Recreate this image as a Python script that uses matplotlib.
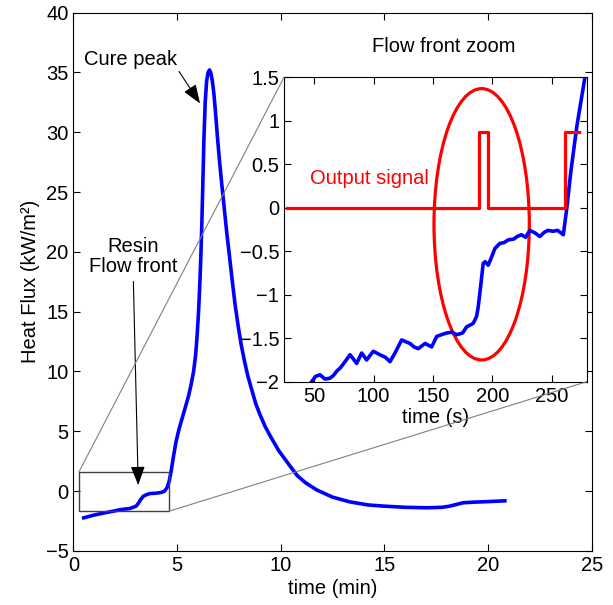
import numpy as np
import matplotlib
matplotlib.use("Agg")
import matplotlib.pyplot as plt
from matplotlib.patches import Rectangle, Ellipse, ConnectionPatch

plt.rcParams['font.family'] = ['Liberation Sans', 'DejaVu Sans']
plt.rcParams['font.size'] = 14.5

# main curve: heat flux vs time (min)
t_min = [0.5, 1.0, 1.5, 2.0, 2.25, 2.73, 3.03, 3.13, 3.25, 3.38, 3.55, 3.7, 4.0, 4.26, 4.4, 4.52,
         4.62, 4.72, 4.83, 4.95, 5.1, 5.25, 5.4, 5.55, 5.68, 5.8, 5.9, 5.97, 6.04, 6.1, 6.15,
         6.2, 6.25, 6.3, 6.36, 6.43, 6.5, 6.57,
         6.64, 6.71, 6.78, 6.86, 6.95, 7.05, 7.15, 7.27, 7.4, 7.52, 7.65, 7.8, 7.95, 8.1, 8.25,
         8.42, 8.6, 8.8, 9.0, 9.25, 9.5, 9.9, 10.45,
         10.8, 11.2, 11.74, 12.5, 13.34, 14.2, 14.95, 16.0, 17.04, 17.8, 18.16, 18.5, 18.8,
         19.3, 19.77, 20.3, 20.81]
flux = [-2.23, -2.0, -1.82, -1.65, -1.55, -1.45, -1.25, -1.03, -0.7, -0.42, -0.28, -0.2, -0.17,
        -0.1, 0.0, 0.3, 0.8, 1.7, 2.9, 4.1, 5.2, 6.1, 7.0, 7.9, 8.9, 10.0, 11.4, 13.0, 15.0,
        17.3, 19.6, 22.5, 26.0, 29.5, 32.5, 34.3, 35.0, 35.2,
        34.9, 34.2, 33.2, 31.6, 29.6, 27.6, 25.8, 23.8, 21.6, 19.8, 17.8, 15.6, 13.8, 12.2,
        10.9, 9.6, 8.5, 7.3, 6.4, 5.4, 4.6, 3.4, 2.1,
        1.3, 0.7, 0.1, -0.5, -0.9, -1.15, -1.25, -1.35, -1.39, -1.35, -1.25, -1.1,
        -0.97, -0.92, -0.89, -0.85, -0.81]

# inset: flow front zoom, time in seconds
t_s = [47.8, 51, 54.8, 59, 63.2, 66, 68.9, 72, 75.9, 80.1, 83, 85.7, 89.9, 94.1, 99.7, 105.3,
       110, 113.8, 118, 123.6, 127, 130.6, 134, 137.6, 143.3, 148.9, 153.1, 157, 161.5, 166,
       170, 175, 178.3, 183.9, 186.7, 188, 189.5, 191, 192.3, 194, 196.5, 199, 202.1, 206.3,
       210, 213.3, 218, 221, 224.5, 228, 231.6, 236, 240, 244, 247, 251, 255, 259.8, 262.7,
       266, 271.1, 278]
flux_s = [-2.0, -1.94, -1.92, -1.97, -1.96, -1.93, -1.88, -1.84, -1.77, -1.69, -1.74, -1.79,
          -1.67, -1.75, -1.65, -1.69, -1.72, -1.77, -1.67, -1.52, -1.54, -1.56, -1.6, -1.62,
          -1.56, -1.6, -1.48, -1.46, -1.44, -1.43, -1.46, -1.44, -1.37, -1.33, -1.25, -1.15,
          -0.98, -0.8, -0.64, -0.62, -0.66, -0.58, -0.47, -0.41, -0.4, -0.37, -0.36, -0.33,
          -0.31, -0.34, -0.26, -0.29, -0.33, -0.28, -0.26, -0.27, -0.26, -0.31, -0.01, 0.4,
          0.93, 1.5]

# detector output (step signal)
sig_t = [27.4, 188.7, 188.7, 196.6, 196.6, 261.2, 261.2, 273]
sig_v = [0, 0, 0.87, 0.87, 0, 0, 0.87, 0.87]

# zoomed region drawn on main plot (min, kW/m2)
zoom_x = [0.27, 4.63]
zoom_y = [-1.67, 1.6]

# highlight ellipse in inset: centre (s, value), width, height
ell_center = (191.0, -0.19)
ell_w = 80.3
ell_h = 3.12

fig = plt.figure(figsize=(6.13, 6.05), dpi=100)
ax = fig.add_axes([0.1196, 0.0893, 0.8457, 0.890])
ax.plot(t_min, flux, color='#0000ff', lw=2.6)
ax.set_xlim(0, 25)
ax.set_ylim(-5, 40)
ax.set_xticks([0, 5, 10, 15, 20, 25])
ax.set_yticks(np.arange(-5, 41, 5))
ax.tick_params(direction='in', top=True, right=True, length=5, width=0.8)
ax.set_xlabel('time (min)', labelpad=3)
ax.set_ylabel('Heat Flux (kW/m²)', labelpad=4)

ax.add_patch(Rectangle((zoom_x[0], zoom_y[0]), zoom_x[1] - zoom_x[0], zoom_y[1] - zoom_y[0],
                       fill=False, ec='#404040', lw=1.0, zorder=3))

ax.annotate('Cure peak', xy=(6.11, 32.4), xytext=(0.52, 36.1), va='center', ha='left',
            arrowprops=dict(arrowstyle='-|>,head_length=0.8,head_width=0.3', color='black',
                            lw=0.8, shrinkA=0, shrinkB=0, relpos=(1.0, 0.0)))
ax.annotate('Resin\nFlow front', xy=(3.13, 0.5), xytext=(2.89, 19.6), va='center',
            ha='center', multialignment='center', linespacing=1.05,
            arrowprops=dict(arrowstyle='-|>,head_length=0.8,head_width=0.3', color='black',
                            lw=0.8, shrinkA=2, shrinkB=0, relpos=(0.5, 0.0)))
ax.text(14.39, 37.2, 'Flow front zoom', ha='left', va='center')

ins = fig.add_axes([0.4633, 0.3691, 0.4938, 0.5031])
ins.plot(t_s, flux_s, color='#0000ff', lw=2.6)
ins.plot(sig_t, sig_v, color='#ff0000', lw=2.3)
ins.add_patch(Ellipse(ell_center, ell_w, ell_h, fill=False, ec='#ff0000', lw=2.3))
ins.text(46, 0.34, 'Output signal', color='#ff0000', ha='left', va='center')
ins.set_xlim(24.5, 279.5)
ins.set_ylim(-2, 1.5)
ins.set_xticks([50, 100, 150, 200, 250])
ins.set_yticks(np.arange(-2, 1.51, 0.5))
ins.set_yticklabels(['−2', '−1.5', '−1', '−0.5', '0', '0.5', '1', '1.5'])
ins.tick_params(direction='in', top=True, right=True, length=5, width=0.8)
ins.set_xlabel('time (s)', labelpad=2)

for xa, xb in [((0, 1), (zoom_x[0], zoom_y[1])), ((1, 0), (zoom_x[1], zoom_y[0]))]:
    cp = ConnectionPatch(xyA=xa, coordsA=ins.transAxes, xyB=xb, coordsB=ax.transData,
                         color='#808080', lw=0.8)
    fig.add_artist(cp)

fig.savefig('out.png', dpi=100)
